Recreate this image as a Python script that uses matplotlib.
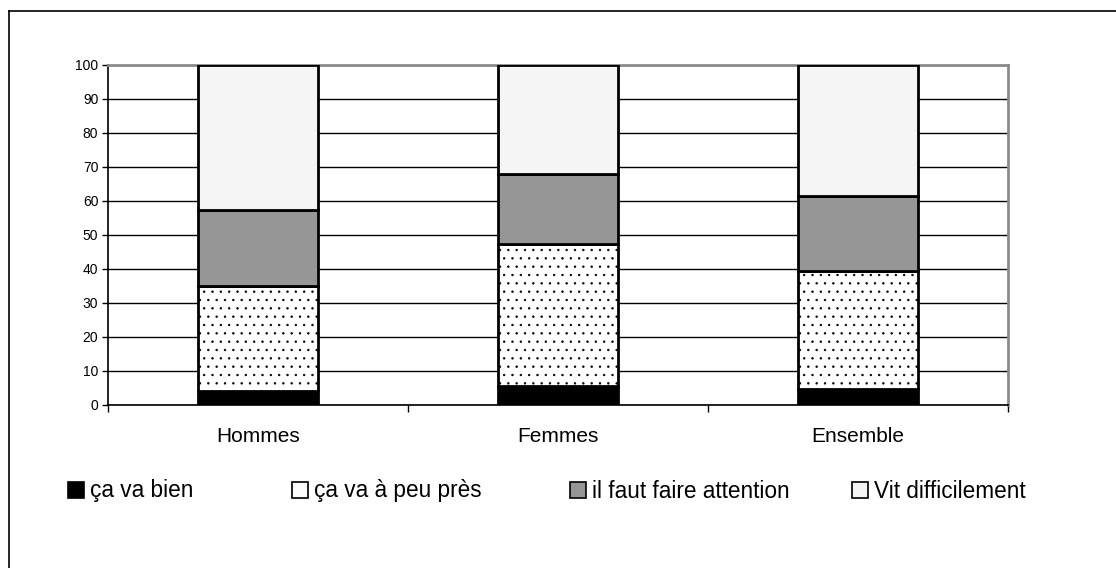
import matplotlib
matplotlib.use("Agg")
import matplotlib.pyplot as plt
from matplotlib.patches import Patch
from matplotlib.lines import Line2D
import numpy as np

plt.rcParams['font.family'] = ['Liberation Sans', 'DejaVu Sans']
plt.rcParams['hatch.linewidth'] = 0.5
plt.rcParams['hatch.color'] = '#707070'

categories = ["Hommes", "Femmes", "Ensemble"]
va_bien = [4.0, 5.5, 4.7]
peu_pres = [31.0, 42.0, 34.8]
attention = [22.5, 20.5, 22.0]
difficile = [42.5, 32.0, 38.5]
series_labels = ["ça va bien", "ça va à peu près", "il faut faire attention", "Vit difficilement"]

fig = plt.figure(figsize=(11.16, 5.68), dpi=100)
ax = fig.add_axes([108 / 1116, 1 - 405 / 568, 900 / 1116, 340 / 568])

x = np.arange(len(categories))
w = 0.4
bottom = np.zeros(len(categories))
styles = [
    dict(color="black", hatch=None),
    dict(color="white", hatch=".."),
    dict(color="#969696", hatch=None),
    dict(color="#f5f5f5", hatch=None),
]
for vals, st in zip([va_bien, peu_pres, attention, difficile], styles):
    ax.bar(x, vals, w, bottom=bottom, facecolor=st["color"], edgecolor="black",
           linewidth=2, hatch=st["hatch"], zorder=3)
    bottom += np.array(vals)

ax.set_xlim(-0.5, 2.5)
ax.set_ylim(0, 100)
ax.set_yticks(range(0, 101, 10))
ax.set_xticks(x)
ax.set_xticklabels(categories, fontsize=15)
ax.tick_params(axis="x", length=0, pad=16)
ax.set_xticks([-0.5, 0.5, 1.5, 2.5], minor=True)
ax.tick_params(axis="x", which="minor", length=5, width=1, color="black")
ax.tick_params(axis="y", labelsize=10, length=4, width=1, pad=3)
ax.yaxis.grid(True, color="black", linewidth=1, zorder=0)
ax.set_axisbelow(True)
for s in ["left", "bottom"]:
    ax.spines[s].set_color("black")
    ax.spines[s].set_linewidth(1.2)
for s in ["top", "right"]:
    ax.spines[s].set_color("#8c8c8c")
    ax.spines[s].set_linewidth(2)

# one legend per entry so the uneven spacing of the original is kept
legend_x = [68, 292, 570, 852]
for st, lab, px in zip(styles, series_labels, legend_x):
    h = Patch(facecolor=st["color"], edgecolor="black", linewidth=1.2)
    fig.legend([h], [lab], loc="center left",
               bbox_to_anchor=((px - 20) / 1116, 1 - 491 / 568), frameon=False, fontsize=16.3,
               handlelength=0.7, handleheight=0.7, handletextpad=0.25)

# outer chart border (left and top only visible)
fig.add_artist(Line2D([8.5 / 1116, 8.5 / 1116], [0, 1 - 11 / 568], color="black", linewidth=1.2))
fig.add_artist(Line2D([8.5 / 1116, 1], [1 - 11 / 568, 1 - 11 / 568], color="black", linewidth=1.2))

fig.savefig("out.png", dpi=100)
